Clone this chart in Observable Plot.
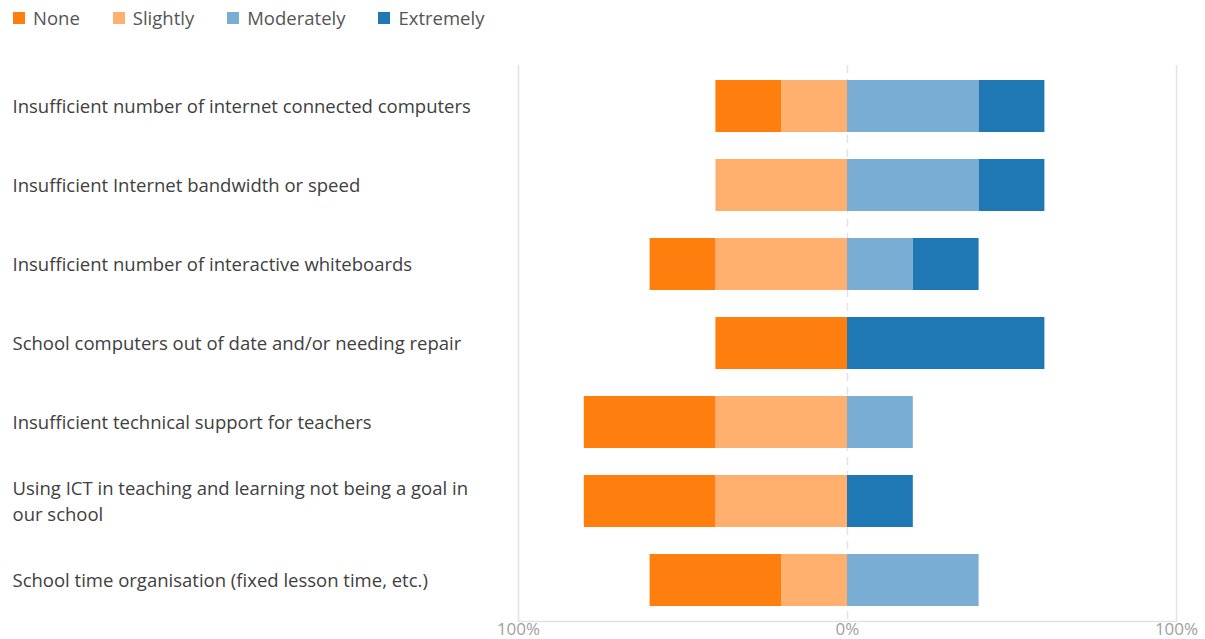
<!DOCTYPE html>
<html>
<head>
<meta charset="utf-8">
<script src="https://cdn.jsdelivr.net/npm/d3@7"></script>
<script src="https://cdn.jsdelivr.net/npm/@observablehq/plot@0.6"></script>
<style>
  body { margin: 0; background: #fff; font-family: "Open Sans", sans-serif; }
  #legend { height: 36px; padding-left: 13px; box-sizing: border-box; padding-top: 5px; }
  #legend .lg-swatches { font-family: "Open Sans", sans-serif !important; font-size: 18.5px !important; color: #555 !important; min-height: 0 !important; margin: 0 !important; }
  #legend .lg-swatch { margin-right: 33px !important; }
  #legend .lg-swatch > svg { margin-right: 8px !important; }
</style>
</head>
<body>
<div id="legend"></div>
<div id="chart"></div>
<script>
const categories = [
  "Insufficient number of internet connected computers",
  "Insufficient Internet bandwidth or speed",
  "Insufficient number of interactive whiteboards",
  "School computers out of date and/or needing repair",
  "Insufficient technical support for teachers",
  "Using ICT in teaching and learning not being a goal in our school",
  "School time organisation (fixed lesson time, etc.)"
];
const levels = ["None", "Slightly", "Moderately", "Extremely"];
const colors = ["#ff7f0e", "#ffb06e", "#7aadd3", "#1f77b4"];
const noneVals       = [20, 0, 20, 40, 40, 40, 40];
const slightlyVals   = [20, 40, 40, 0, 40, 40, 20];
const moderatelyVals = [40, 40, 20, 0, 20, 0, 40];
const extremelyVals  = [20, 20, 20, 60, 0, 20, 0];
const xTicks = [-100, 0, 100];

// stacking order: nearest zero first on each side
const rows = [];
categories.forEach((c, i) => {
  rows.push({category: c, level: "Slightly", value: -slightlyVals[i]});
  rows.push({category: c, level: "None", value: -noneVals[i]});
  rows.push({category: c, level: "Moderately", value: moderatelyVals[i]});
  rows.push({category: c, level: "Extremely", value: extremelyVals[i]});
});

const wrapLabel = (s) => s.startsWith("Using ICT")
  ? "Using ICT in teaching and learning not being a goal in\nour school" : s;

const colorScale = {domain: levels, range: colors};

document.getElementById("legend").appendChild(
  Plot.legend({color: colorScale, legend: "swatches", swatchSize: 12, className: "lg"})
);

const chart = Plot.plot({
  width: 1205,
  height: 603,
  marginLeft: 518,
  marginRight: 29,
  marginTop: 29,
  marginBottom: 18,
  style: {fontFamily: "Open Sans, sans-serif", fontSize: "18px", color: "#404040", background: "#fff"},
  x: {domain: [-100, 100], ticks: xTicks, tickFormat: d => Math.abs(d) + "%"},
  y: {domain: categories, paddingInner: 0.34, paddingOuter: 0.17, label: null},
  color: colorScale,
  marks: [
    Plot.ruleX([-100, 100], {stroke: "#e3e3e3", strokeWidth: 1.5}),
    Plot.ruleX([0], {stroke: "#e3e3e3", strokeWidth: 1.5, strokeDasharray: "8,6"}),
    Plot.barX(rows.filter(d => d.value !== 0), Plot.stackX({
      x: "value", y: "category", fill: "level", order: null, inset: 0
    })),
    Plot.frame({anchor: "bottom", stroke: "#e3e3e3", strokeWidth: 1.5}),
    Plot.axisX({ticks: xTicks, tickFormat: d => Math.abs(d) + "%", tickSize: 0, tickPadding: 1,
      fill: "#a0a0a0", label: null, fontSize: 17}),
    Plot.axisY({tickSize: 0, textAnchor: "start", dx: -497, dy: -2, tickFormat: wrapLabel,
      fill: "#404040", label: null, lineWidth: 100, lineHeight: 1.4, fontSize: 18.5})
  ]
});
document.getElementById("chart").appendChild(chart);
</script>
</body>
</html>
